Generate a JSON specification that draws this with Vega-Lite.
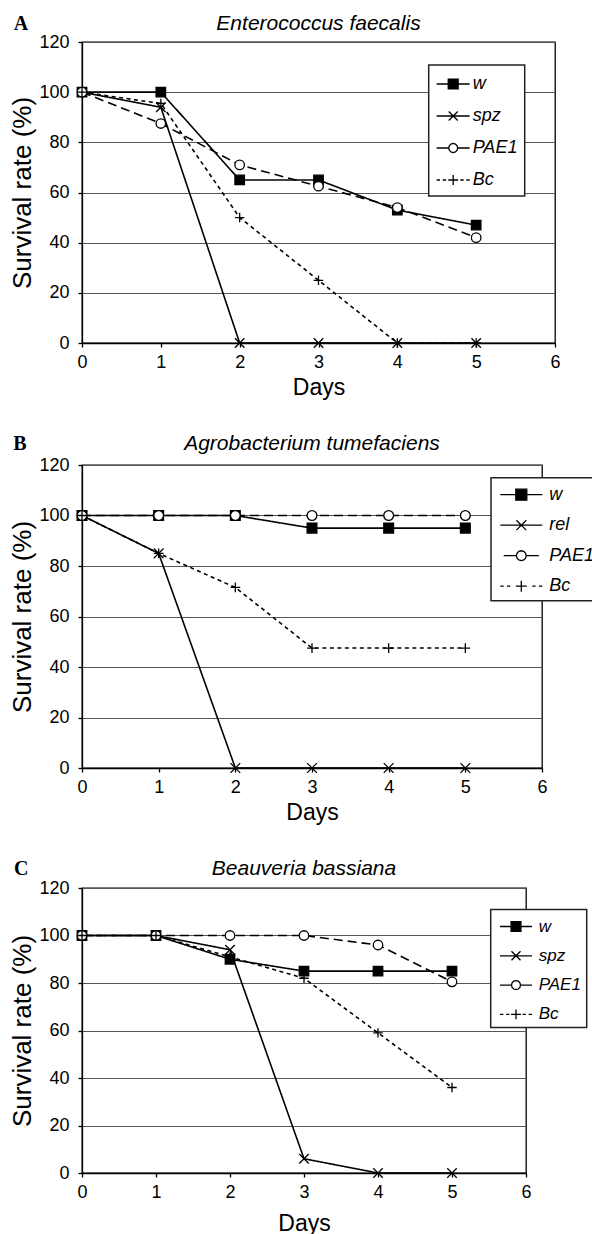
{
  "$schema": "https://vega.github.io/schema/vega-lite/v6.json",
  "background": "white",
  "padding": {"left": 9, "top": 12, "right": 0, "bottom": 0},
  "spacing": 32,
  "datasets": {
    "A": [
      {"series": "w", "day": 0, "rate": 100}, {"series": "w", "day": 1, "rate": 100}, {"series": "w", "day": 2, "rate": 65}, {"series": "w", "day": 3, "rate": 65}, {"series": "w", "day": 4, "rate": 53}, {"series": "w", "day": 5, "rate": 47},
      {"series": "spz", "day": 0, "rate": 100}, {"series": "spz", "day": 1, "rate": 94}, {"series": "spz", "day": 2, "rate": 0}, {"series": "spz", "day": 3, "rate": 0}, {"series": "spz", "day": 4, "rate": 0}, {"series": "spz", "day": 5, "rate": 0},
      {"series": "PAE1", "day": 0, "rate": 100}, {"series": "PAE1", "day": 1, "rate": 87.5}, {"series": "PAE1", "day": 2, "rate": 71}, {"series": "PAE1", "day": 3, "rate": 62.5}, {"series": "PAE1", "day": 4, "rate": 54}, {"series": "PAE1", "day": 5, "rate": 42},
      {"series": "Bc", "day": 0, "rate": 100}, {"series": "Bc", "day": 1, "rate": 95.5}, {"series": "Bc", "day": 2, "rate": 50}, {"series": "Bc", "day": 3, "rate": 25}, {"series": "Bc", "day": 4, "rate": 0}, {"series": "Bc", "day": 5, "rate": 0}
    ],
    "B": [
      {"series": "w", "day": 0, "rate": 100}, {"series": "w", "day": 1, "rate": 100}, {"series": "w", "day": 2, "rate": 100}, {"series": "w", "day": 3, "rate": 95}, {"series": "w", "day": 4, "rate": 95}, {"series": "w", "day": 5, "rate": 95},
      {"series": "rel", "day": 0, "rate": 100}, {"series": "rel", "day": 1, "rate": 85}, {"series": "rel", "day": 2, "rate": 0}, {"series": "rel", "day": 3, "rate": 0}, {"series": "rel", "day": 4, "rate": 0}, {"series": "rel", "day": 5, "rate": 0},
      {"series": "PAE1", "day": 0, "rate": 100}, {"series": "PAE1", "day": 1, "rate": 100}, {"series": "PAE1", "day": 2, "rate": 100}, {"series": "PAE1", "day": 3, "rate": 100}, {"series": "PAE1", "day": 4, "rate": 100}, {"series": "PAE1", "day": 5, "rate": 100},
      {"series": "Bc", "day": 0, "rate": 100}, {"series": "Bc", "day": 1, "rate": 85}, {"series": "Bc", "day": 2, "rate": 71.5}, {"series": "Bc", "day": 3, "rate": 47.5}, {"series": "Bc", "day": 4, "rate": 47.5}, {"series": "Bc", "day": 5, "rate": 47.5}
    ],
    "C": [
      {"series": "w", "day": 0, "rate": 100}, {"series": "w", "day": 1, "rate": 100}, {"series": "w", "day": 2, "rate": 90}, {"series": "w", "day": 3, "rate": 85}, {"series": "w", "day": 4, "rate": 85}, {"series": "w", "day": 5, "rate": 85},
      {"series": "spz", "day": 0, "rate": 100}, {"series": "spz", "day": 1, "rate": 100}, {"series": "spz", "day": 2, "rate": 94}, {"series": "spz", "day": 3, "rate": 6}, {"series": "spz", "day": 4, "rate": 0}, {"series": "spz", "day": 5, "rate": 0},
      {"series": "PAE1", "day": 0, "rate": 100}, {"series": "PAE1", "day": 1, "rate": 100}, {"series": "PAE1", "day": 2, "rate": 100}, {"series": "PAE1", "day": 3, "rate": 100}, {"series": "PAE1", "day": 4, "rate": 96}, {"series": "PAE1", "day": 5, "rate": 80.5},
      {"series": "Bc", "day": 0, "rate": 100}, {"series": "Bc", "day": 1, "rate": 100}, {"series": "Bc", "day": 2, "rate": 91}, {"series": "Bc", "day": 3, "rate": 82}, {"series": "Bc", "day": 4, "rate": 59}, {"series": "Bc", "day": 5, "rate": 36}
    ],
    "legA": [{"series": "w", "day": null, "rate": null}, {"series": "spz", "day": null, "rate": null}, {"series": "PAE1", "day": null, "rate": null}, {"series": "Bc", "day": null, "rate": null}],
    "legB": [{"series": "w", "day": null, "rate": null}, {"series": "rel", "day": null, "rate": null}, {"series": "PAE1", "day": null, "rate": null}, {"series": "Bc", "day": null, "rate": null}],
    "panelA": [{"panel": "A"}],
    "panelB": [{"panel": "B"}],
    "panelC": [{"panel": "C"}]
  },
  "vconcat": [
    {
      "data": {"name": "A"},
      "width": 473,
      "height": 301,
      "title": {"text": "Enterococcus faecalis"},
      "layer": [
        {
          "mark": {"type": "line", "color": "black", "strokeWidth": 1.6},
          "encoding": {
            "x": {"field": "day", "type": "quantitative", "scale": {"domain": [0, 6]}, "axis": {"title": "Days", "values": [0, 1, 2, 3, 4, 5, 6], "format": "d"}},
            "y": {"field": "rate", "type": "quantitative", "scale": {"domain": [0, 120]}, "axis": {"title": "Survival rate (%)", "values": [0, 20, 40, 60, 80, 100, 120], "format": "d"}},
            "strokeDash": {"field": "series", "type": "nominal", "scale": {"domain": ["w", "spz", "PAE1", "Bc"], "range": [[1, 0], [1, 0], [9, 5], [4, 3.5]]}, "legend": null}
          }
        },
        {
          "mark": {"type": "point", "filled": true, "stroke": "black", "strokeWidth": 1.3, "size": 90, "opacity": 1},
          "encoding": {
            "x": {"field": "day", "type": "quantitative"},
            "y": {"field": "rate", "type": "quantitative"},
            "shape": {"field": "series", "type": "nominal", "scale": {"domain": ["w", "spz", "PAE1", "Bc"], "range": ["square", "M-1,-1L1,1M-1,1L1,-1", "circle", "M-1,0H1M0,-1V1"]}, "legend": null},
            "fill": {"field": "series", "type": "nominal", "scale": {"domain": ["w", "spz", "PAE1", "Bc"], "range": ["black", "transparent", "white", "transparent"]}, "legend": null}
          }
        },
        {
          "data": {"name": "legA"},
          "mark": {"type": "point", "filled": true, "strokeWidth": 1.3},
          "encoding": {
            "x": {"field": "day", "type": "quantitative"},
            "y": {"field": "rate", "type": "quantitative"},
            "shape": {"field": "series", "type": "nominal", "scale": {"domain": ["w", "spz", "PAE1", "Bc"], "range": [
              "M-1.5,0H-0.45M0.45,0H1.5M-0.45,-0.45H0.45V0.45H-0.45Z",
              "M-1.5,0H1.5M-0.41,-0.41L0.41,0.41M-0.41,0.41L0.41,-0.41",
              "M-1.5,0H-0.41M0.41,0H1.5M0.41,0L0.355,0.205L0.205,0.355L0,0.41L-0.205,0.355L-0.355,0.205L-0.41,0L-0.355,-0.205L-0.205,-0.355L0,-0.41L0.205,-0.355L0.355,-0.205Z",
              "M-1.5,0H-1.2M-0.95,0H-0.65M0.65,0H0.95M1.2,0H1.5M-0.45,0H0.45M0,-0.45V0.45"]},
              "legend": {"orient": "none", "legendX": 346.7, "legendY": 23, "title": null, "symbolSize": 484, "padding": 7, "rowPadding": 11, "symbolOffset": 5.5, "labelOffset": 7.5, "labelFontSize": 18}},
            "fill": {"field": "series", "type": "nominal", "scale": {"domain": ["w", "spz", "PAE1", "Bc"], "range": ["black", "white", "white", "white"]},
              "legend": {"orient": "none", "legendX": 346.7, "legendY": 23, "title": null, "symbolSize": 484, "padding": 7, "rowPadding": 11, "symbolOffset": 5.5, "labelOffset": 7.5, "labelFontSize": 18}},
            "stroke": {"field": "series", "type": "nominal", "scale": {"domain": ["w", "spz", "PAE1", "Bc"], "range": ["black", "black", "black", "black"]},
              "legend": {"orient": "none", "legendX": 346.7, "legendY": 23, "title": null, "symbolSize": 484, "padding": 7, "rowPadding": 11, "symbolOffset": 5.5, "labelOffset": 7.5, "labelFontSize": 18}}
          }
        },
        {
          "data": {"name": "panelA"},
          "mark": {"type": "text", "font": "Liberation Serif", "fontWeight": "bold", "fontSize": 20, "align": "left", "baseline": "middle", "color": "black"},
          "encoding": {
            "text": {"field": "panel"},
            "x": {"datum": -0.866},
            "y": {"datum": 127.2}
          }
        }
      ],
      "resolve": {"scale": {"shape": "independent", "fill": "independent", "stroke": "independent"}}
    },
    {
      "data": {"name": "B"},
      "width": 460,
      "height": 303,
      "title": {"text": "Agrobacterium tumefaciens"},
      "layer": [
        {
          "mark": {"type": "line", "color": "black", "strokeWidth": 1.6},
          "encoding": {
            "x": {"field": "day", "type": "quantitative", "scale": {"domain": [0, 6]}, "axis": {"title": "Days", "values": [0, 1, 2, 3, 4, 5, 6], "format": "d"}},
            "y": {"field": "rate", "type": "quantitative", "scale": {"domain": [0, 120]}, "axis": {"title": "Survival rate (%)", "values": [0, 20, 40, 60, 80, 100, 120], "format": "d"}},
            "strokeDash": {"field": "series", "type": "nominal", "scale": {"domain": ["w", "rel", "PAE1", "Bc"], "range": [[1, 0], [1, 0], [9, 5], [4, 3.5]]}, "legend": null}
          }
        },
        {
          "mark": {"type": "point", "filled": true, "stroke": "black", "strokeWidth": 1.3, "size": 95, "opacity": 1},
          "encoding": {
            "x": {"field": "day", "type": "quantitative"},
            "y": {"field": "rate", "type": "quantitative"},
            "shape": {"field": "series", "type": "nominal", "scale": {"domain": ["w", "rel", "PAE1", "Bc"], "range": ["square", "M-1,-1L1,1M-1,1L1,-1", "circle", "M-1,0H1M0,-1V1"]}, "legend": null},
            "fill": {"field": "series", "type": "nominal", "scale": {"domain": ["w", "rel", "PAE1", "Bc"], "range": ["black", "transparent", "white", "transparent"]}, "legend": null}
          }
        },
        {
          "data": {"name": "legB"},
          "mark": {"type": "point", "filled": true, "strokeWidth": 1.3},
          "encoding": {
            "x": {"field": "day", "type": "quantitative"},
            "y": {"field": "rate", "type": "quantitative"},
            "shape": {"field": "series", "type": "nominal", "scale": {"domain": ["w", "rel", "PAE1", "Bc"], "range": [
              "M-1.91,0H-0.5M0.5,0H1.91M-0.5,-0.5H0.5V0.5H-0.5Z",
              "M-1.91,0H1.91M-0.45,-0.45L0.45,0.45M-0.45,0.45L0.45,-0.45",
              "M-1.6,0H-0.45M0.45,0H1.6M0.45,0L0.39,0.225L0.225,0.39L0,0.45L-0.225,0.39L-0.39,0.225L-0.45,0L-0.39,-0.225L-0.225,-0.39L0,-0.45L0.225,-0.39L0.39,-0.225Z",
              "M-1.91,0H-1.6M-1.3,0H-1M1,0H1.3M1.6,0H1.91M-0.5,0H0.5M0,-0.5V0.5"]},
              "legend": {"orient": "none", "legendX": 409, "legendY": 12.7, "title": null, "symbolSize": 484, "padding": 5, "rowPadding": 9.5, "symbolOffset": 13.3, "labelOffset": 16, "labelFontSize": 18}},
            "fill": {"field": "series", "type": "nominal", "scale": {"domain": ["w", "rel", "PAE1", "Bc"], "range": ["black", "white", "white", "white"]},
              "legend": {"orient": "none", "legendX": 409, "legendY": 12.7, "title": null, "symbolSize": 484, "padding": 5, "rowPadding": 9.5, "symbolOffset": 13.3, "labelOffset": 16, "labelFontSize": 18}},
            "stroke": {"field": "series", "type": "nominal", "scale": {"domain": ["w", "rel", "PAE1", "Bc"], "range": ["black", "black", "black", "black"]},
              "legend": {"orient": "none", "legendX": 409, "legendY": 12.7, "title": null, "symbolSize": 484, "padding": 5, "rowPadding": 9.5, "symbolOffset": 13.3, "labelOffset": 16, "labelFontSize": 18}}
          }
        },
        {
          "data": {"name": "panelB"},
          "mark": {"type": "text", "font": "Liberation Serif", "fontWeight": "bold", "fontSize": 20, "align": "left", "baseline": "middle", "color": "black"},
          "encoding": {
            "text": {"field": "panel"},
            "x": {"datum": -0.896},
            "y": {"datum": 128.2}
          }
        }
      ],
      "resolve": {"scale": {"shape": "independent", "fill": "independent", "stroke": "independent"}}
    },
    {
      "data": {"name": "C"},
      "width": 444,
      "height": 285,
      "title": {"text": "Beauveria bassiana"},
      "layer": [
        {
          "mark": {"type": "line", "color": "black", "strokeWidth": 1.6},
          "encoding": {
            "x": {"field": "day", "type": "quantitative", "scale": {"domain": [0, 6]}, "axis": {"title": "Days", "values": [0, 1, 2, 3, 4, 5, 6], "format": "d", "titlePadding": 11}},
            "y": {"field": "rate", "type": "quantitative", "scale": {"domain": [0, 120]}, "axis": {"title": "Survival rate (%)", "values": [0, 20, 40, 60, 80, 100, 120], "format": "d"}},
            "strokeDash": {"field": "series", "type": "nominal", "scale": {"domain": ["w", "spz", "PAE1", "Bc"], "range": [[1, 0], [1, 0], [9, 5], [4, 3.5]]}, "legend": null}
          }
        },
        {
          "mark": {"type": "point", "filled": true, "stroke": "black", "strokeWidth": 1.3, "size": 90, "opacity": 1},
          "encoding": {
            "x": {"field": "day", "type": "quantitative"},
            "y": {"field": "rate", "type": "quantitative"},
            "shape": {"field": "series", "type": "nominal", "scale": {"domain": ["w", "spz", "PAE1", "Bc"], "range": ["square", "M-1,-1L1,1M-1,1L1,-1", "circle", "M-1,0H1M0,-1V1"]}, "legend": null},
            "fill": {"field": "series", "type": "nominal", "scale": {"domain": ["w", "spz", "PAE1", "Bc"], "range": ["black", "transparent", "white", "transparent"]}, "legend": null}
          }
        },
        {
          "data": {"name": "legA"},
          "mark": {"type": "point", "filled": true, "strokeWidth": 1.3},
          "encoding": {
            "x": {"field": "day", "type": "quantitative"},
            "y": {"field": "rate", "type": "quantitative"},
            "shape": {"field": "series", "type": "nominal", "scale": {"domain": ["w", "spz", "PAE1", "Bc"], "range": [
              "M-1.45,0H-0.45M0.45,0H1.45M-0.45,-0.45H0.45V0.45H-0.45Z",
              "M-1.45,0H1.45M-0.41,-0.41L0.41,0.41M-0.41,0.41L0.41,-0.41",
              "M-1.45,0H-0.41M0.41,0H1.45M0.41,0L0.355,0.205L0.205,0.355L0,0.41L-0.205,0.355L-0.355,0.205L-0.41,0L-0.355,-0.205L-0.205,-0.355L0,-0.41L0.205,-0.355L0.355,-0.205Z",
              "M-1.45,0H-1.15M-0.9,0H-0.6M0.6,0H0.9M1.15,0H1.45M-0.45,0H0.45M0,-0.45V0.45"]},
              "legend": {"orient": "none", "legendX": 408.7, "legendY": 21.5, "title": null, "symbolSize": 484, "padding": 5, "rowPadding": 9.3, "symbolOffset": 8.3, "labelOffset": 10.7, "labelFontSize": 17}},
            "fill": {"field": "series", "type": "nominal", "scale": {"domain": ["w", "spz", "PAE1", "Bc"], "range": ["black", "white", "white", "white"]},
              "legend": {"orient": "none", "legendX": 408.7, "legendY": 21.5, "title": null, "symbolSize": 484, "padding": 5, "rowPadding": 9.3, "symbolOffset": 8.3, "labelOffset": 10.7, "labelFontSize": 17}},
            "stroke": {"field": "series", "type": "nominal", "scale": {"domain": ["w", "spz", "PAE1", "Bc"], "range": ["black", "black", "black", "black"]},
              "legend": {"orient": "none", "legendX": 408.7, "legendY": 21.5, "title": null, "symbolSize": 484, "padding": 5, "rowPadding": 9.3, "symbolOffset": 8.3, "labelOffset": 10.7, "labelFontSize": 17}}
          }
        },
        {
          "data": {"name": "panelC"},
          "mark": {"type": "text", "font": "Liberation Serif", "fontWeight": "bold", "fontSize": 20, "align": "left", "baseline": "middle", "color": "black"},
          "encoding": {
            "text": {"field": "panel"},
            "x": {"datum": -0.919},
            "y": {"datum": 127.9}
          }
        }
      ],
      "resolve": {"scale": {"shape": "independent", "fill": "independent", "stroke": "independent"}}
    }
  ],
  "config": {
    "view": {"stroke": "black", "strokeWidth": 1.3},
    "title": {"font": "Liberation Sans", "fontSize": 21, "fontStyle": "italic", "fontWeight": "normal", "color": "black", "anchor": "middle", "frame": "group", "offset": -20},
    "axis": {"labelFont": "Liberation Sans", "labelFontSize": 18, "labelColor": "black", "titleFont": "Liberation Sans", "titleFontWeight": "normal", "titleColor": "black", "domainColor": "black", "domainWidth": 1.3, "tickColor": "black", "tickSize": 4, "tickWidth": 1.3, "labelFlush": false, "labelOverlap": false},
    "axisX": {"grid": false, "labelPadding": 6, "titleFontSize": 23, "titlePadding": 5},
    "axisY": {"grid": true, "gridColor": "#555", "gridWidth": 1.2, "labelPadding": 9, "titleFontSize": 26, "titlePadding": 3},
    "legend": {"labelFont": "Liberation Sans", "labelFontStyle": "italic", "labelColor": "black", "strokeColor": "#222", "strokeWidth": 1.5, "fillColor": "white", "symbolStrokeColor": "black", "symbolStrokeWidth": 1.3, "symbolOpacity": 1}
  }
}
